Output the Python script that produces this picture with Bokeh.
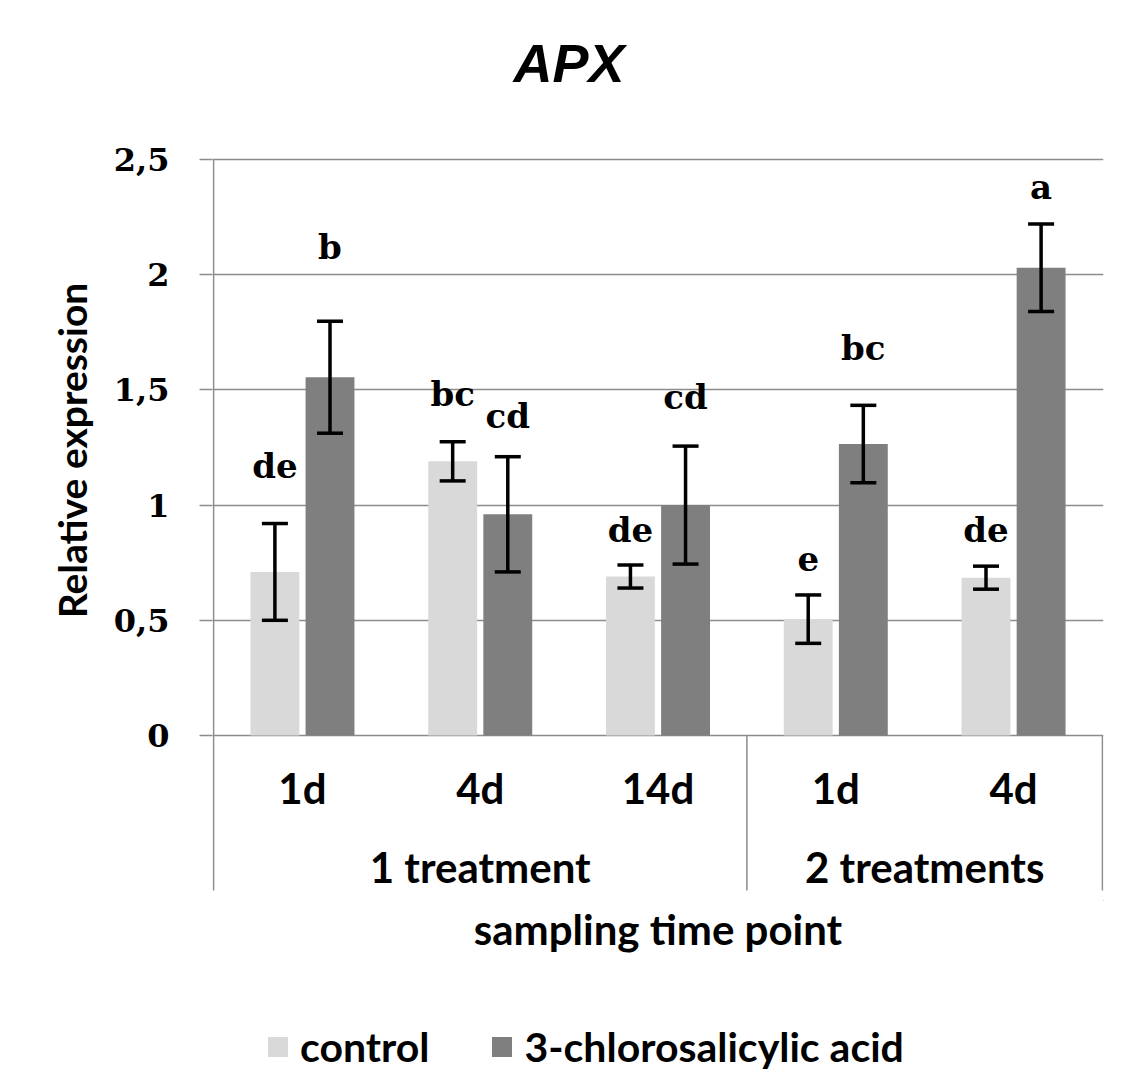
from bokeh.plotting import figure
from bokeh.layouts import column
from bokeh.models import (ColumnDataSource, Whisker, FixedTicker, Legend, LegendItem,
                          Range1d, TeeHead, CustomJSTickFormatter)
from bokeh.core.properties import value
from bokeh.transform import dodge
from bokeh.embed import file_html
from bokeh.resources import INLINE

# ---------------- data ----------------
chart_title = "APX"
x_title = "sampling time point"
y_title = "Relative expression"
time_points = ["1d", "4d", "14d", "1d", "4d"]
treatments = ["1 treatment", "2 treatments"]
treatment_sizes = [3, 2]
series_names = ["control", "3-chlorosalicylic acid"]
control_mean = [0.71, 1.19, 0.69, 0.505, 0.685]
control_err = [0.21, 0.085, 0.05, 0.105, 0.05]
csa_mean = [1.555, 0.96, 1.0, 1.265, 2.03]
csa_err = [0.243, 0.25, 0.256, 0.168, 0.19]
control_letters = ["de", "bc", "de", "e", "de"]
csa_letters = ["b", "cd", "cd", "bc", "a"]
control_letter_y = [1.17, 1.48, 0.89, 0.77, 0.89]
csa_letter_y = [2.12, 1.385, 1.47, 1.68, 2.38]
y_ticks = [0, 0.5, 1, 1.5, 2, 2.5]

# ---------------- styling / layout ----------------
CTRL_COLOR = "#d9d9d9"
CSA_COLOR = "#7f7f7f"
GRID_COLOR = "#8c8c8c"
BAR_W = 0.275
OFF = 0.155
Y_TOP = 3.190        # top of the canvas
SEP_BOT = -0.6727    # bottom of the category-axis box
SPLIT = -0.7161      # where the main figure ends and the lower strip begins
Y_BOT = -1.4714      # bottom of the canvas
TIME_Y = -0.2257
GROUP_Y = -0.5686
XTITLE_Y = -0.8377
TITLE_Y = 2.917
MAIN_H = 900

n = len(time_points)
centers = [i + 0.5 for i in range(n)]
src = ColumnDataSource(dict(
    xc=[c - OFF for c in centers],
    xs=[c + OFF for c in centers],
    ctrl=control_mean,
    csa=csa_mean,
    c_up=[m + e for m, e in zip(control_mean, control_err)],
    c_lo=[m - e for m, e in zip(control_mean, control_err)],
    s_up=[m + e for m, e in zip(csa_mean, csa_err)],
    s_lo=[m - e for m, e in zip(csa_mean, csa_err)],
    c_lab=control_letters,
    s_lab=csa_letters,
    c_ly=control_letter_y,
    s_ly=csa_letter_y,
))

x_range = Range1d(-0.006, n + 0.006)

p = figure(width=1140, height=MAIN_H, output_backend="svg", toolbar_location=None,
           x_range=x_range, y_range=Range1d(SPLIT, Y_TOP),
           min_border_left=212, min_border_right=37, min_border_top=0,
           min_border_bottom=0)
p.outline_line_color = None
p.background_fill_color = "white"
p.border_fill_color = "white"
p.xaxis.visible = False

# grid
p.xgrid.visible = False
p.ygrid.ticker = FixedTicker(ticks=y_ticks)
p.ygrid.grid_line_color = GRID_COLOR
p.ygrid.grid_line_width = 1.5

# y axis
yax = p.yaxis[0]
yax.bounds = (0, 2.5)
yax.ticker = FixedTicker(ticks=y_ticks)
yax.formatter = CustomJSTickFormatter(code="return tick.toString().replace('.', ',');")
yax.axis_line_color = None
yax.major_tick_line_color = GRID_COLOR
yax.major_tick_line_width = 1.5
yax.major_tick_out = 13
yax.major_tick_in = 0
yax.minor_tick_line_color = None
yax.major_label_standoff = 30
yax.major_label_text_font = "DejaVu Serif"
yax.major_label_text_font_style = "bold"
yax.major_label_text_font_size = "32px"
yax.major_label_text_color = "black"
yax.axis_label = y_title
yax.axis_label_text_font = "Lato"
yax.axis_label_text_font_style = "bold"
yax.axis_label_text_font_size = "39px"
yax.axis_label_text_color = "black"
yax.axis_label_standoff = 16

# title
p.text(x=[n * 0.4], y=[TITLE_Y], text=[chart_title], text_align="center",
       text_baseline="middle", text_font=value("Liberation Sans"),
       text_font_style="bold italic", text_font_size="54px", text_color="black")

# bars
r_ctrl = p.vbar(x="xc", top="ctrl", width=BAR_W, source=src,
                fill_color=CTRL_COLOR, line_color=None)
r_csa = p.vbar(x="xs", top="csa", width=BAR_W, source=src,
               fill_color=CSA_COLOR, line_color=None)

# error bars
for base, up, lo in (("xc", "c_up", "c_lo"), ("xs", "s_up", "s_lo")):
    p.add_layout(Whisker(base=base, upper=up, lower=lo, source=src,
                         line_color="black", line_width=3.5, level="overlay",
                         upper_head=TeeHead(size=26, line_width=3.5, line_color="black"),
                         lower_head=TeeHead(size=26, line_width=3.5, line_color="black")))

# significance letters
for xcol, ycol, tcol in (("xc", "c_ly", "c_lab"), ("xs", "s_ly", "s_lab")):
    p.text(x=xcol, y=ycol, text=tcol, source=src, text_align="center",
           text_baseline="middle", text_font=value("DejaVu Serif"),
           text_font_style="bold", text_font_size="34px", text_color="black")

# category-axis box: left line, group separators, right line
bounds = [0]
for s in treatment_sizes:
    bounds.append(bounds[-1] + s)
p.segment(x0=[0], y0=[y_ticks[-1]], x1=[0], y1=[SEP_BOT],
          line_color=GRID_COLOR, line_width=1.5)
sep_x = bounds[1:]
p.segment(x0=sep_x, y0=[0] * len(sep_x), x1=sep_x, y1=[SEP_BOT] * len(sep_x),
          line_color=GRID_COLOR, line_width=1.5)

# category labels (time points) and group labels
p.text(x=centers, y=[TIME_Y] * n, text=time_points, text_align="center",
       text_baseline="middle", text_font=value("Lato"), text_font_style="bold",
       text_font_size="42px", text_color="black")
group_centers = [(a + b) / 2 for a, b in zip(bounds[:-1], bounds[1:])]
p.text(x=group_centers, y=[GROUP_Y] * len(treatments), text=treatments,
       text_align="center", text_baseline="middle", text_font=value("Lato"),
       text_font_style="bold", text_font_size="42px", text_color="black")

# ---------------- lower strip: x-axis title and legend ----------------
q = figure(width=1140, height=1074 - MAIN_H, output_backend="svg",
           toolbar_location=None, x_range=x_range, y_range=Range1d(Y_BOT, SPLIT),
           min_border_left=212, min_border_right=37, min_border_top=0,
           min_border_bottom=0)
q.outline_line_color = None
q.background_fill_color = "white"
q.border_fill_color = "white"
q.axis.visible = False
q.grid.visible = False

q.text(x=[n / 2], y=[XTITLE_Y], text=[x_title], text_align="center",
       text_baseline="middle", text_font=value("Lato"), text_font_style="bold",
       text_font_size="42px", text_color="black")

# legend keys: the same bars, shifted far outside this strip's visible range
l_ctrl = q.vbar(x=dodge("xc", 100, range=x_range), top="ctrl", width=BAR_W,
                source=src, fill_color=CTRL_COLOR, line_color=None)
l_csa = q.vbar(x=dodge("xs", 100, range=x_range), top="csa", width=BAR_W,
               source=src, fill_color=CSA_COLOR, line_color=None)
legend = Legend(items=[LegendItem(label=series_names[0], renderers=[l_ctrl]),
                       LegendItem(label=series_names[1], renderers=[l_csa])],
                location=(53, 3), orientation="horizontal",
                glyph_width=25, glyph_height=25, label_standoff=10, spacing=60,
                padding=0, margin=0, border_line_color=None,
                background_fill_alpha=0,
                label_text_font="Lato", label_text_font_style="bold",
                label_text_font_size="41px", label_text_color="black")
q.add_layout(legend)

layout = column(p, q, spacing=0)
open("out.html", "w").write(file_html(layout, INLINE))
